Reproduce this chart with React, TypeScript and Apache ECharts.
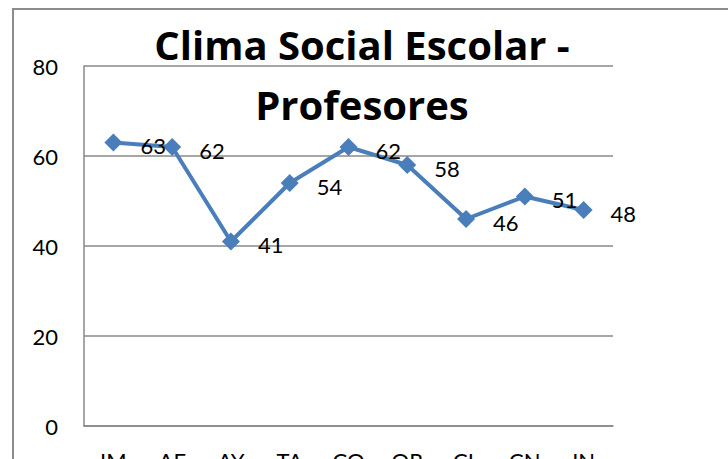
import React, { useEffect, useRef } from "react";
import * as echarts from "echarts";

const categories = ["IM", "AF", "AY", "TA", "CO", "OR", "CL", "CN", "IN"];
const values = [63, 62, 41, 54, 62, 58, 46, 51, 48];
const titleLines = ["Clima Social Escolar -", "Profesores"];

const FONT = "Lato, 'Noto Sans', sans-serif";
const TITLE_FONT = "'Open Sans', Lato, sans-serif";

export default function App() {
  const ref = useRef<HTMLDivElement>(null);
  useEffect(() => {
    if (!ref.current) return;
    const chart = echarts.init(ref.current, null, { renderer: "svg" });
    chart.setOption({
      animation: false,
      backgroundColor: "#ffffff",
      textStyle: { fontFamily: FONT },
      title: {
        text: titleLines.join("\n"),
        left: 357,
        top: 9,
        textAlign: "center",
        textStyle: {
          fontFamily: TITLE_FONT,
          fontSize: 40,
          fontWeight: "bold",
          color: "#000",
          lineHeight: 60,
        },
      },
      graphic: [
        {
          type: "rect",
          shape: { x: 13, y: 9, width: 900, height: 600 },
          style: { fill: "none", stroke: "#8c8c8c", lineWidth: 2 },
          silent: true,
          z: -1,
        },
      ],
      grid: {
        left: 84,
        top: 66,
        width: 529,
        bottom: 33,
        containLabel: false,
        outerBoundsMode: "none",
      },
      xAxis: {
        type: "category",
        data: categories,
        boundaryGap: true,
        axisLine: { show: true, lineStyle: { color: "#888", width: 1.5 } },
        axisTick: { show: false },
        axisLabel: { fontSize: 22, color: "#000", margin: 23, fontFamily: FONT },
      },
      yAxis: {
        type: "value",
        min: 0,
        max: 80,
        interval: 20,
        axisLine: { show: true, lineStyle: { color: "#888", width: 1.5 } },
        axisTick: { show: false },
        axisLabel: { fontSize: 22, color: "#000", margin: 26, fontFamily: FONT },
        splitLine: { show: true, lineStyle: { color: "#888", width: 1.5 } },
      },
      series: [
        {
          type: "line",
          data: values,
          symbol: "diamond",
          symbolSize: 18,
          lineStyle: { color: "#4a7ebb", width: 4 },
          itemStyle: { color: "#4a7ebb" },
          label: {
            show: true,
            position: "right",
            distance: 18,
            offset: [0, 3],
            fontSize: 22,
            color: "#000",
            fontFamily: FONT,
          },
        },
      ],
    });
    return () => chart.dispose();
  }, []);
  return (
    <div
      ref={ref}
      style={{ position: "fixed", left: 0, top: 0, width: 728, height: 459 }}
    />
  );
}
